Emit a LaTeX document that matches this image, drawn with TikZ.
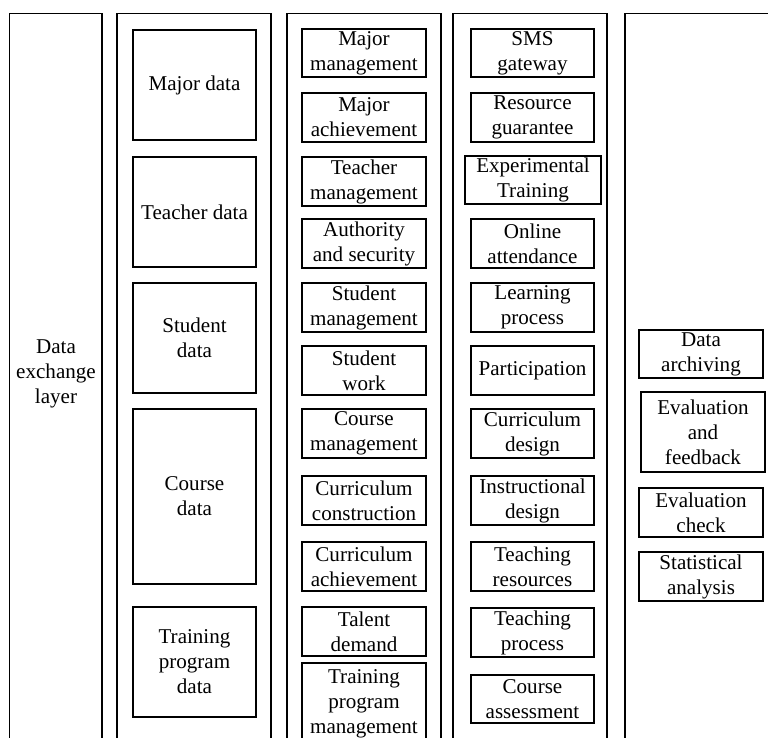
\documentclass[tikz,border=0pt]{standalone}
\usepackage{fontspec}
\setmainfont{Liberation Serif}
\newcommand\mybx[6]{\node[bx, minimum width={(#4-#2)*0.75pt}, minimum height={(#5-#3)*0.75pt}] (#1) at ({(#2+#4)/2},{(#3+#5)/2}) {#6};}
\begin{document}
\begin{tikzpicture}[x=0.75pt,y=-0.75pt,
  bx/.style={draw, line width=1pt, inner sep=0pt, align=center,
    font=\fontsize{15.8}{18.8}\selectfont},
  lbl/.style={inner sep=0pt, align=center, font=\fontsize{15.8}{18.8}\selectfont}]
\useasboundingbox (0,0) rectangle (768,738);
\clip (0,0) rectangle (768,738);
% outer columns
\mybx{o1}{9.5}{13.5}{102}{760}{}
\mybx{o2}{117}{13.5}{271}{760}{}
\mybx{o3}{287}{13.5}{441}{760}{}
\mybx{o4}{453}{13.5}{607}{760}{}
\mybx{o5}{625}{13.5}{800}{760}{}
\node[lbl] (dx) at (56,374) {Data\\exchange\\layer};
% column 2
\mybx{a1}{133}{30}{256}{140}{Major data}
\mybx{a2}{133}{157}{256}{267}{Teacher data}
\mybx{a3}{133}{283}{256}{393}{Student\\data}
\mybx{a4}{133}{409}{256}{584}{Course\\data}
\mybx{a5}{133}{607}{256}{717}{Training\\program\\data}
% column 3
\mybx{b1}{302}{29}{426}{77}{Major\\management}
\mybx{b2}{302}{93}{426}{142}{Major\\achievement}
\mybx{b3}{302}{157}{426}{206}{Teacher\\management}
\mybx{b4}{302}{219}{426}{268}{Authority\\and security}
\mybx{b5}{302}{283}{426}{332}{Student\\management}
\mybx{b6}{302}{346}{426}{395}{Student\\work}
\mybx{b7}{302}{409}{426}{458}{Course\\management}
\mybx{b8}{302}{476}{426}{525}{Curriculum\\construction}
\mybx{b9}{302}{542}{426}{591}{Curriculum\\achievement}
\mybx{b10}{302}{607}{426}{656}{Talent\\demand}
\mybx{b11}{302}{663}{426}{745}{Training\\program\\management}
% column 4
\mybx{c1}{471}{29}{594}{77}{SMS\\gateway}
\mybx{c2}{471}{93}{594}{142}{Resource\\guarantee}
\mybx{c3}{465}{156}{601}{204}{Experimental\\Training}
\mybx{c4}{471}{219}{594}{268}{Online\\attendance}
\mybx{c5}{471}{283}{594}{332}{Learning\\process}
\mybx{c6}{471}{346}{594}{395}{Participation}
\mybx{c7}{471}{409}{594}{458}{Curriculum\\design}
\mybx{c8}{471}{476}{594}{525}{Instructional\\design}
\mybx{c9}{471}{542}{594}{591}{Teaching\\resources}
\mybx{c10}{471}{608}{594}{657}{Teaching\\process}
\mybx{c11}{471}{675}{594}{723}{Course\\assessment}
% column 5
\mybx{d1}{639}{330}{763}{378}{Data\\archiving}
\mybx{d2}{641}{392}{765}{472}{Evaluation\\and\\feedback}
\mybx{d3}{639}{488}{763}{537}{Evaluation\\check}
\mybx{d4}{639}{552}{763}{601}{Statistical\\analysis}
\end{tikzpicture}
\end{document}
